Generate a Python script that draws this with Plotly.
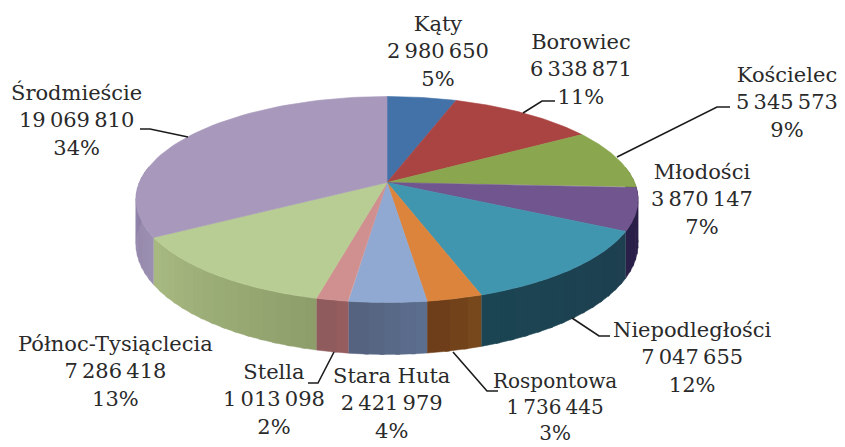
import numpy as np
import plotly.graph_objects as go

names = ["Kąty", "Borowiec", "Kościelec", "Młodości", "Niepodległości", "Rospontowa",
         "Stara Huta", "Stella", "Północ-Tysiąclecia", "Środmieście"]
values = [2980650, 6338871, 5345573, 3870147, 7047655, 1736445, 2421979, 1013098, 7286418, 19069810]
value_labels = ["2\u2009980\u2009650", "6\u2009338\u2009871", "5\u2009345\u2009573", "3\u2009870\u2009147",
                "7\u2009047\u2009655", "1\u2009736\u2009445", "2\u2009421\u2009979", "1\u2009013\u2009098",
                "7\u2009286\u2009418", "19\u2009069\u2009810"]
percents = ["5%", "11%", "9%", "7%", "12%", "3%", "4%", "2%", "13%", "34%"]
top_colors = ["#4272a8", "#aa4442", "#8aa64f", "#71558f", "#4096af", "#dc843c",
              "#90a9d2", "#d09090", "#b8cd94", "#a798bc"]
side_a = ["#2c4a70", "#703030", "#5c7034", "#2a1f48", "#1e3f50", "#7a4a1c",
          "#5c6f90", "#985e60", "#8d9d6a", "#9c90b0"]
side_b = ["#2c4a70", "#703030", "#5c7034", "#2a1f48", "#1b4552", "#6a3c18",
          "#55627e", "#8e5a5c", "#a8ba82", "#8a7ca6"]

label_pos = [(438, 51), (581, 69), (787, 102), (702, 199), (692, 357),
             (555, 407), (391, 403), (274, 399), (115, 371), (76, 120)]
label_sizes = [21, 21, 21, 21, 21, 20, 21, 21, 21, 21]
leaders = [None, ([523, 542, 555], [113, 101, 101]), ([617, 717, 730], [157, 107, 107]), None,
           ([572, 599, 610], [318, 336, 336]), ([453, 487, 498], [352, 391, 391]), None,
           ([334, 318, 308], [352, 383, 383]), None, ([188, 150, 140], [137, 129, 129])]

CX, CY, A, B, K, D = 387.0, 182.5, 247.6, 100.2, 0.165, 43.4


def proj(theta):
    u, v = np.sin(theta), np.cos(theta)
    w = 1 + K * v
    return CX + A * u / w, CY - B * v / w, D / w


def mix(c1, c2, t):
    a = [int(c1[i:i + 2], 16) for i in (1, 3, 5)]
    b = [int(c2[i:i + 2], 16) for i in (1, 3, 5)]
    return "rgb(%d,%d,%d)" % tuple(round(p + (q - p) * t) for p, q in zip(a, b))


fig = go.Figure()
fractions = np.cumsum([0] + values) / sum(values)
VIS_START = np.pi / 2 - 0.16
VIS_END = 3 * np.pi / 2 + 0.16

# side walls: strips inside a slice overlap so no seams show, slice borders stay exact
for i in range(len(values)):
    t0 = max(fractions[i] * 2 * np.pi, VIS_START)
    t1 = min(fractions[i + 1] * 2 * np.pi, VIS_END)
    if t1 <= t0:
        continue
    n = max(1, int((t1 - t0) / np.radians(3)))
    edges = np.linspace(t0, t1, n + 1)
    for j in range(n):
        start = edges[j] - (0.015 if j > 0 else 0)
        th = np.linspace(start, edges[j + 1], 6)
        x, y, d = proj(th)
        color = mix(side_a[i], side_b[i], (j + 0.5) / n)
        fig.add_trace(go.Scatter(
            x=np.r_[x, x[::-1]], y=np.r_[y, (y + d)[::-1]], mode="lines", fill="toself",
            line=dict(width=0.5, color=color), fillcolor=color,
            hoverinfo="skip", showlegend=False))

# top faces
for i in range(len(values)):
    th = np.linspace(fractions[i], fractions[i + 1], 60) * 2 * np.pi
    x, y, _ = proj(th)
    fig.add_trace(go.Scatter(
        x=np.r_[CX, x, CX], y=np.r_[CY, y, CY], mode="lines", fill="toself",
        line=dict(width=0.6, color=top_colors[i]), fillcolor=top_colors[i],
        name=names[i], hoverinfo="name", showlegend=False))

# leaders
for seg in leaders:
    if seg:
        fig.add_trace(go.Scatter(x=seg[0], y=seg[1], mode="lines",
                                 line=dict(color="#1c1c1c", width=1.6),
                                 hoverinfo="skip", showlegend=False))

for i, (px, py) in enumerate(label_pos):
    fig.add_annotation(x=px, y=py, xref="x", yref="y", showarrow=False, align="center",
                       text=f"{names[i]}<br>{value_labels[i]}<br>{percents[i]}",
                       font=dict(family="DejaVu Serif", size=label_sizes[i], color="#2a2a2a"))

fig.update_layout(width=845, height=447, margin=dict(l=0, r=0, t=0, b=0),
                  paper_bgcolor="white", plot_bgcolor="white", showlegend=False,
                  xaxis=dict(range=[0, 845], visible=False, fixedrange=True),
                  yaxis=dict(range=[447, 0], visible=False, fixedrange=True))
fig.write_html("out.html", config=dict(displayModeBar=False),
               post_script="document.body.style.margin='0';document.body.style.overflow='hidden';")
